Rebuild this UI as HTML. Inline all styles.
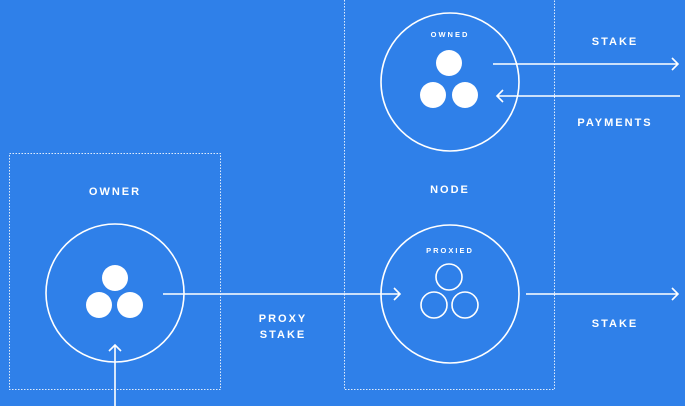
<!DOCTYPE html>
<html><head><meta charset="utf-8"><style>
html,body{margin:0;padding:0;background:#2f80e9;}
svg{display:block}
text{font-family:"Liberation Sans",sans-serif;font-weight:bold;fill:#fff;text-anchor:middle;letter-spacing:2px}
</style></head><body>
<svg width="685" height="406" viewBox="0 0 685 406" xmlns="http://www.w3.org/2000/svg">
<rect width="685" height="406" fill="#2f80e9"/>
<g fill="none" stroke="#fff" stroke-opacity="0.85" stroke-width="1" stroke-dasharray="1.5 1.5">
<rect x="9.5" y="153.5" width="211" height="236"/>
<path d="M344.5 0 V389.5 H554.5 V0"/>
</g>
<g fill="none" stroke="#fff" stroke-width="1.6">
<circle cx="115" cy="293" r="69"/>
<circle cx="450" cy="82" r="69"/>
<circle cx="450" cy="294" r="69"/>
<circle cx="449" cy="277" r="13"/>
<circle cx="434" cy="305" r="13"/>
<circle cx="465" cy="305" r="13"/>
<path d="M115 406 V345 M109 351 L115 345 L121 351"/>
<path d="M163 294 H400 M394 288 L400 294 L394 300"/>
<path d="M493 64 H678 M672 58 L678 64 L672 70"/>
<path d="M680 96 H497 M503 90 L497 96 L503 102"/>
<path d="M526 294 H678 M672 288 L678 294 L672 300"/>
</g>
<g fill="#fff">
<circle cx="115" cy="278" r="13"/><circle cx="99" cy="305" r="13"/><circle cx="130" cy="305" r="13"/>
<circle cx="449" cy="63" r="13"/><circle cx="433" cy="95" r="13"/><circle cx="465" cy="95" r="13"/>
</g>
<text x="615" y="45" font-size="11">STAKE</text>
<text x="615" y="126" font-size="11">PAYMENTS</text>
<text x="450" y="193" font-size="11">NODE</text>
<text x="115" y="195" font-size="11">OWNER</text>
<text x="283" y="322" font-size="11">PROXY</text>
<text x="283" y="338" font-size="11">STAKE</text>
<text x="615" y="327" font-size="11">STAKE</text>
<text x="450" y="37" font-size="7.5" letter-spacing="1.2">OWNED</text>
<text x="450" y="253" font-size="7.5" letter-spacing="1.2">PROXIED</text>
</svg>
</body></html>
